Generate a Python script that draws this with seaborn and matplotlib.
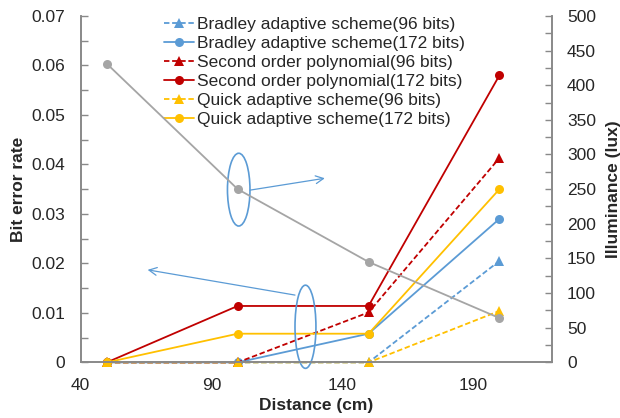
import numpy as np
import pandas as pd
import matplotlib
matplotlib.use("Agg")
import matplotlib.pyplot as plt
import seaborn as sns
from matplotlib.patches import Ellipse
from matplotlib.ticker import FixedLocator, MultipleLocator

# distances (cm)
distance = [50, 100, 150, 200]

# bit error rate per scheme
bradley_96 = [0, 0, 0, 0.0205]
bradley_172 = [0, 0, 0.0058, 0.029]
poly_96 = [0, 0, 0.0101, 0.0413]
poly_172 = [0, 0.0114, 0.0114, 0.058]
quick_96 = [0, 0, 0, 0.0104]
quick_172 = [0, 0.0058, 0.0058, 0.035]

# illuminance (lux), right axis
illuminance = [431, 250, 145, 64]

series = [
    ("Bradley adaptive scheme(96 bits)", bradley_96, "#5B9BD5", "--", "^"),
    ("Bradley adaptive scheme(172 bits)", bradley_172, "#5B9BD5", "-", "o"),
    ("Second order polynomial(96 bits)", poly_96, "#C00000", "--", "^"),
    ("Second order polynomial(172 bits)", poly_172, "#C00000", "-", "o"),
    ("Quick adaptive scheme(96 bits)", quick_96, "#FFC000", "--", "^"),
    ("Quick adaptive scheme(172 bits)", quick_172, "#FFC000", "-", "o"),
]

sns.set_style("white")
plt.rcParams["font.family"] = ["Liberation Sans", "DejaVu Sans"]
plt.rcParams["font.size"] = 12.5

spine_col = "#898989"

fig = plt.figure(figsize=(6.2, 4.18), dpi=100)
ax = fig.add_axes([0.130, 0.133, 0.760, 0.829])
ax2 = ax.twinx()

for label, vals, col, ls, mk in series:
    df = pd.DataFrame({"distance": distance, "ber": vals})
    line_kws = dict(color=col, marker=mk, markersize=6.5, markeredgewidth=0,
                    linewidth=1.3, clip_on=False, label=label)
    if ls == "--":
        line_kws["dashes"] = (3, 1.5)
    sns.lineplot(data=df, x="distance", y="ber", ax=ax, **line_kws)

df_lux = pd.DataFrame({"distance": distance, "lux": illuminance})
sns.lineplot(data=df_lux, x="distance", y="lux", ax=ax2, color="#A5A5A5",
             marker="o", markersize=6.5, markeredgewidth=0, linewidth=1.3,
             clip_on=False, legend=False)

ax.set_xlim(40, 220)
ax.set_ylim(0, 0.07)
ax2.set_ylim(0, 500)

ax.xaxis.set_major_locator(FixedLocator([40, 90, 140, 190]))
ax.xaxis.set_minor_locator(MultipleLocator(10))
ax.yaxis.set_major_locator(MultipleLocator(0.01))
ax.yaxis.set_minor_locator(MultipleLocator(0.005))
ax2.yaxis.set_major_locator(MultipleLocator(50))
ax2.yaxis.set_minor_locator(MultipleLocator(25))
ax.set_yticklabels(["0" if t == 0 else f"{t:.2f}" for t in ax.get_yticks()])

for a in (ax, ax2):
    a.tick_params(which="both", direction="in", color=spine_col, length=5,
                  width=1, labelsize=12.5, pad=11)
    for s in a.spines.values():
        s.set_color(spine_col)
        s.set_linewidth(1.2)
    a.spines["top"].set_visible(False)

ax.set_xlabel("Distance (cm)", fontweight="bold", fontsize=12.5, labelpad=4)
ax.set_ylabel("Bit error rate", fontweight="bold", fontsize=12.5, labelpad=4)
ax2.set_ylabel("Illuminance (lux)", fontweight="bold", fontsize=12.5, labelpad=7)

# annotation ellipses and arrows
ell_col = "#5B9BD5"
ax.add_patch(Ellipse((100.4, 0.0349), 8.6, 0.0147, fill=False, ec=ell_col,
                     lw=1.2, clip_on=False, zorder=5))
ax.add_patch(Ellipse((125.9, 0.0072), 8.0, 0.0168, fill=False, ec=ell_col,
                     lw=1.2, clip_on=False, zorder=5))
ax.annotate("", xy=(133.3, 0.0372), xytext=(104.7, 0.0348),
            arrowprops=dict(arrowstyle="->", color=ell_col, lw=0.9,
                            mutation_scale=14, shrinkA=0, shrinkB=0))
ax.annotate("", xy=(65.6, 0.0187), xytext=(121.9, 0.0136),
            arrowprops=dict(arrowstyle="->", color=ell_col, lw=0.9,
                            mutation_scale=14, shrinkA=0, shrinkB=0))

ax.legend(loc="upper left", bbox_to_anchor=(0.178, 0.998), frameon=False,
          fontsize=12.5, handlelength=1.7, handletextpad=0.2,
          labelspacing=0.22, borderpad=0, borderaxespad=0)

fig.savefig("out.png", dpi=100)
